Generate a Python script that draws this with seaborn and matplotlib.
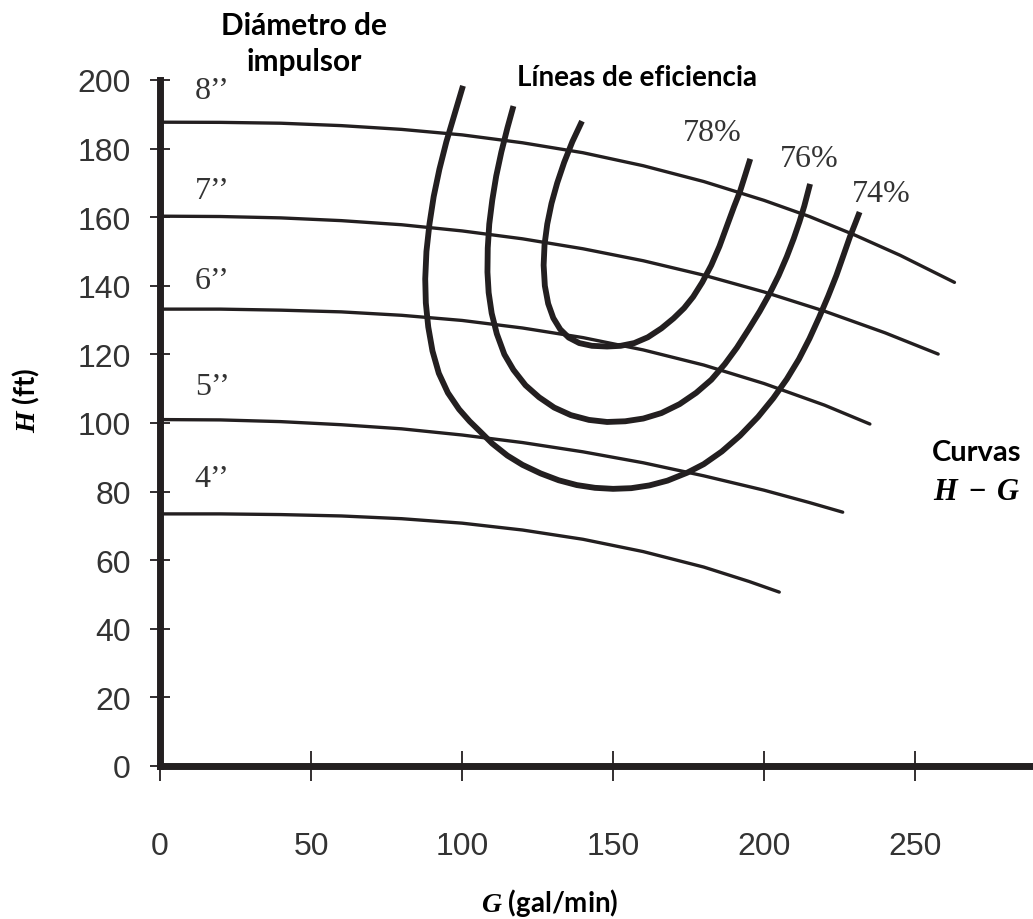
import matplotlib
matplotlib.use("Agg")
import matplotlib.pyplot as plt
import seaborn as sns
import pandas as pd

# ---------------- data ----------------
# Head-capacity (H-G) curves per impeller diameter
diameters = ['8’’', '7’’', '6’’', '5’’', '4’’']
g_8 = [0, 20, 40, 60, 80, 100, 120, 140, 160, 180, 200, 215, 230, 245, 263]
h_8 = [187.7, 187.65, 187.4, 186.7, 185.6, 184.0, 181.7, 178.8, 175.0, 170.4, 164.9, 160.2, 154.8, 148.9, 141.0]
g_7 = [0, 20, 40, 60, 80, 100, 120, 140, 160, 180, 200, 220, 240, 257.6]
h_7 = [160.3, 160.2, 159.8, 159.0, 157.8, 156.0, 153.7, 150.8, 147.3, 143.1, 138.2, 132.6, 126.3, 120.1]
g_6 = [0, 20, 40, 60, 80, 100, 120, 140, 160, 180, 200, 220, 235]
h_6 = [133.2, 133.2, 132.9, 132.4, 131.4, 129.9, 127.7, 124.9, 121.3, 116.9, 111.5, 105.2, 99.7]
g_5 = [0, 20, 40, 60, 80, 100, 120, 140, 160, 180, 200, 215, 226]
h_5 = [101.0, 100.9, 100.4, 99.5, 98.3, 96.5, 94.3, 91.6, 88.4, 84.6, 80.4, 76.8, 74.0]
g_4 = [0, 20, 40, 60, 80, 100, 120, 140, 160, 180, 195, 205]
h_4 = [73.5, 73.5, 73.3, 72.9, 72.1, 70.8, 68.8, 66.1, 62.5, 58.0, 53.8, 50.7]
label_h = [196.8, 167.8, 141.5, 110.5, 83.7]
label_g = 11.5

# Efficiency lines
eff_labels = ['78%', '76%', '74%']
g_78 = [139.7, 136.5, 133.8, 131.5, 129.6, 128.2, 127.3, 127.0, 127.4, 128.5, 130.2, 132.5, 135.3,
        138.8, 143.0, 148.0, 152.5, 157.0, 161.5, 166.0, 170.0, 173.5, 176.5, 179.5, 182.5, 185.2,
        187.7, 190.0, 192.0, 193.8, 195.4]
h_78 = [188.0, 182.0, 176.0, 170.0, 164.0, 158.0, 152.0, 146.0, 140.0, 134.8, 130.6, 127.3, 124.9,
        123.3, 122.5, 122.3, 122.5, 123.3, 125.0, 127.6, 130.5, 133.5, 136.8, 141.0, 146.0, 151.5,
        157.5, 163.0, 167.5, 172.5, 177.0]
g_76 = [117.0, 115.0, 113.0, 111.3, 110.0, 109.0, 108.5, 108.4, 108.8, 109.8, 111.5, 114.0, 117.0,
        121.0, 125.5, 130.5, 136.0, 142.0, 148.0, 154.0, 160.0, 166.0, 172.0, 177.5, 182.5, 187.0,
        191.0, 195.0, 198.5, 201.8, 204.8, 207.5, 209.8, 211.7, 213.3, 214.4, 215.2]
h_76 = [192.4, 186.0, 179.0, 172.0, 165.0, 158.0, 151.0, 144.0, 138.0, 132.0, 126.0, 120.0, 115.5,
        111.0, 107.5, 104.5, 102.3, 100.9, 100.3, 100.5, 101.3, 102.9, 105.5, 108.8, 112.6, 117.2,
        122.0, 127.5, 132.5, 137.7, 143.0, 148.5, 153.8, 158.7, 163.3, 167.0, 169.7]
g_74 = [100.3, 97.5, 94.8, 92.5, 90.6, 89.2, 88.2, 87.8, 88.0, 88.8, 90.2, 92.3, 95.3, 99.0, 102.5,
        106.0, 110.0, 115.0, 120.0, 126.0, 132.0, 138.0, 144.0, 150.0, 156.0, 162.0, 168.0, 174.5,
        180.0, 186.0, 192.0, 198.0, 203.0, 207.5, 211.5, 215.0, 218.2, 221.2, 223.9, 226.3, 228.4,
        230.2, 231.6]
h_74 = [198.3, 190.0, 182.0, 174.0, 166.0, 158.0, 150.0, 142.0, 135.0, 128.0, 121.0, 114.5, 108.8,
        104.0, 100.5, 97.5, 94.0, 90.5, 87.8, 85.3, 83.3, 81.9, 81.1, 80.8, 81.0, 81.8, 83.2, 85.5,
        88.0, 91.7, 96.3, 101.8, 107.2, 112.8, 118.6, 124.6, 130.8, 137.0, 143.0, 149.0, 154.3,
        158.3, 161.5]
eff_label_g = [173.2, 205.3, 229.1]
eff_label_h = [184.8, 177.0, 166.8]

x_ticks = [0, 50, 100, 150, 200, 250]
y_ticks = [0, 20, 40, 60, 80, 100, 120, 140, 160, 180, 200]

# ---------------- styling ----------------
sns.set_theme(style="white")
plt.rcParams['font.family'] = ['Liberation Sans', 'DejaVu Sans']
plt.rcParams['mathtext.fontset'] = 'custom'
plt.rcParams['mathtext.it'] = 'Liberation Serif:italic:bold'
plt.rcParams['mathtext.rm'] = 'Liberation Serif:bold'
plt.rcParams['mathtext.bf'] = 'Liberation Serif:bold'

INK = '#231f20'
TXT = '#333333'

fig = plt.figure(figsize=(10.33, 9.2), dpi=100)
ax = fig.add_axes([160 / 1033, 1 - 767 / 920, (1033 - 160) / 1033, (767 - 81) / 920])

hg_sets = [(g_8, h_8), (g_7, h_7), (g_6, h_6), (g_5, h_5), (g_4, h_4)]
for (g, h), name in zip(hg_sets, diameters):
    df = pd.DataFrame({'G': g, 'H': h})
    sns.lineplot(data=df, x='G', y='H', ax=ax, color=INK, lw=2.4,
                 sort=False, estimator=None, legend=False)

eff_sets = [(g_78, h_78), (g_76, h_76), (g_74, h_74)]
for (g, h), name in zip(eff_sets, eff_labels):
    df = pd.DataFrame({'G': g, 'H': h})
    sns.lineplot(data=df, x='G', y='H', ax=ax, color=INK, lw=4.2,
                 sort=False, estimator=None, legend=False,
                 solid_capstyle='butt', solid_joinstyle='round')

serif = ['Liberation Serif', 'DejaVu Serif']
for name, hv in zip(diameters, label_h):
    ax.text(label_g, hv, name, ha='left', va='center', fontsize=23,
            family=serif, color=TXT)
for name, gv, hv in zip(eff_labels, eff_label_g, eff_label_h):
    ax.text(gv, hv, name, ha='left', va='center', fontsize=23,
            family=serif, color=TXT)

ax.set_xlim(0, 289)
ax.set_ylim(0, 200)
ax.set_xticks(x_ticks)
ax.set_yticks(y_ticks)
ax.set_xlabel('')
ax.set_ylabel('')
sns.despine(ax=ax, top=True, right=True)
for s in ['left', 'bottom']:
    ax.spines[s].set_linewidth(5)
    ax.spines[s].set_color(INK)
    ax.spines[s].set_capstyle('projecting')
ax.tick_params(axis='y', direction='inout', length=14, width=1.3, color=INK,
               labelcolor=TXT, labelsize=23, pad=14, left=True)
ax.tick_params(axis='x', direction='inout', length=21, width=1.3, color=INK,
               labelcolor=TXT, labelsize=23, pad=36, bottom=True)

bold = ['Lato', 'DejaVu Sans']
fig.text(304 / 1033, 1 - 26 / 920, 'Diámetro de', ha='center', va='center',
         fontsize=21.5, fontweight='bold', family=bold, color='black')
fig.text(304 / 1033, 1 - 62 / 920, 'impulsor', ha='center', va='center',
         fontsize=21.5, fontweight='bold', family=bold, color='black')
fig.text(637 / 1033, 1 - 78 / 920, 'Líneas de eficiencia', ha='center', va='center',
         fontsize=20, fontweight='bold', family=bold, color='black')
fig.text(977 / 1033, 1 - 453 / 920, 'Curvas', ha='center', va='center',
         fontsize=21, fontweight='bold', family=bold, color='black')
fig.text(977 / 1033, 1 - 492 / 920, r'$H\;-\;G$', ha='center', va='center',
         fontsize=22, color='black')
fig.text(550 / 1033, 1 - 903 / 920, r'$G$ (gal/min)', ha='center', va='center',
         fontsize=20, fontweight='bold', family=bold, color='black')
fig.text(26 / 1033, 1 - 400 / 920, r'$H$ (ft)', ha='center', va='center',
         rotation=90, fontsize=20, fontweight='bold', family=bold, color='black')

fig.savefig('out.png', dpi=100, facecolor='white')
